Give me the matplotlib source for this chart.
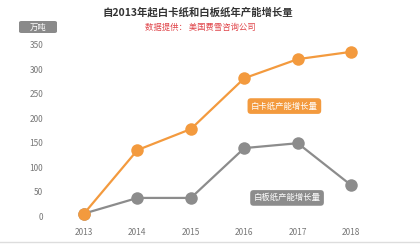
import matplotlib.pyplot as plt
from matplotlib.lines import Line2D
from matplotlib.patches import FancyBboxPatch

plt.rcParams['font.family'] = ['Noto Sans CJK SC', 'DejaVu Sans']

# 数据
years = [2013, 2014, 2015, 2016, 2017, 2018]
baika = [5, 135, 178, 282, 321, 336]     # 白卡纸
baiban = [5, 37, 37, 139, 149, 63]       # 白板纸
yticks = [0, 50, 100, 150, 200, 250, 300, 350]

orange = '#f39a3e'
gray = '#8c8c8c'

fig = plt.figure(figsize=(4.2, 2.49), dpi=100)
fig.patch.set_facecolor('white')
ax = fig.add_axes([60 / 420, 24 / 249, 320 / 420, 185 / 249])

ax.plot(years, baiban, color=gray, lw=1.6, marker='o', ms=9,
        markeredgewidth=0, zorder=3)
ax.plot(years, baika, color=orange, lw=1.6, marker='o', ms=9,
        markeredgewidth=0, zorder=4)

ax.set_xlim(2012.55, 2018.54)
ax.set_ylim(-18.4, 360.2)
ax.set_xticks(years)
ax.set_yticks(yticks)
ax.tick_params(length=0, labelsize=6, colors='#777777')
ax.tick_params(axis='y', pad=12)
ax.tick_params(axis='x', pad=2)
for s in ax.spines.values():
    s.set_visible(False)

# 系列标签
ax.text(2016.75, 225, '白卡纸产能增长量', color='white', fontsize=6,
        ha='center', va='center', zorder=5,
        bbox=dict(boxstyle='round,pad=0.4', fc=orange, ec='none'))
ax.text(2016.8, 37, '白板纸产能增长量', color='white', fontsize=6,
        ha='center', va='center', zorder=5,
        bbox=dict(boxstyle='round,pad=0.4', fc=gray, ec='none'))

# 标题
fig.text(198 / 420, 1 - 12 / 249, '自2013年起白卡纸和白板纸年产能增长量',
         fontsize=7.5, fontweight='bold', color='#333333', ha='center', va='center')
fig.text(200 / 420, 1 - 27 / 249, '数据提供： 美国费雪咨询公司',
         fontsize=6, color='#e0454a', ha='center', va='center')

# 单位
unit_box = FancyBboxPatch((19 / 420, 1 - 33 / 249), 38 / 420, 12 / 249,
                          boxstyle='round,pad=0,rounding_size=0.006',
                          transform=fig.transFigure, fc='#8a8a8a', ec='none')
fig.add_artist(unit_box)
fig.text(38 / 420, 1 - 27 / 249, '万吨', fontsize=6, color='white',
         ha='center', va='center')

fig.add_artist(Line2D([0, 1], [1 - 242 / 249] * 2, color='#dddddd', lw=1,
                      transform=fig.transFigure))

fig.savefig('out.png', dpi=100, facecolor='white')
